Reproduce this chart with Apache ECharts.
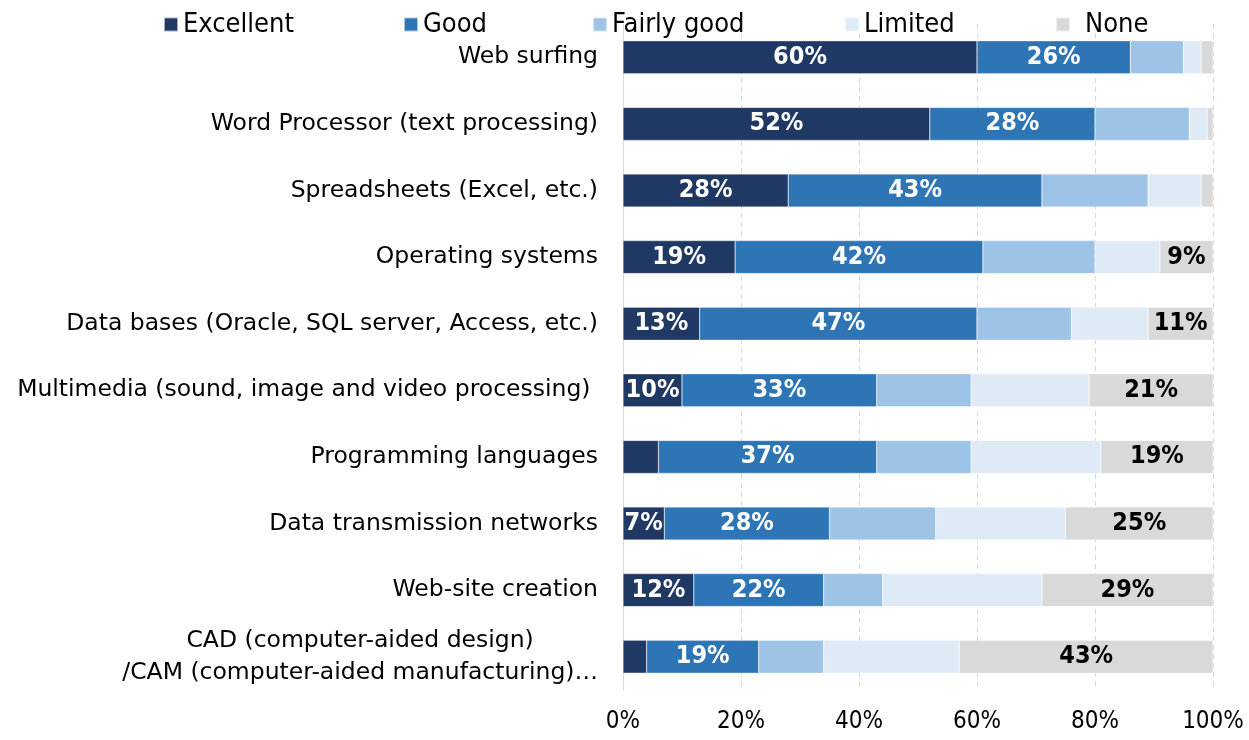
<!DOCTYPE html>
<html lang="en">
<head>
<meta charset="UTF-8">
<title>Skills</title>
<style>
  html, body { margin: 0; padding: 0; background: #fff; }
  #main { width: 1249px; height: 740px; }
</style>
</head>
<body>
<div id="main"></div>
<script src="https://cdn.jsdelivr.net/npm/echarts@6/dist/echarts.min.js"></script>
<script>
var categories = [
  'Web surfing',
  'Word Processor (text processing)',
  'Spreadsheets (Excel, etc.)',
  'Operating systems',
  'Data bases (Oracle, SQL server, Access, etc.)',
  'Multimedia (sound, image and video processing) ',
  'Programming languages',
  'Data transmission networks',
  'Web-site creation',
  'CAD (computer-aided design)\n/CAM (computer-aided manufacturing)…'
];
var levels = ['Excellent', 'Good', 'Fairly good', 'Limited', 'None'];
var excellent = [60, 52, 28, 19, 13, 10, 6, 7, 12, 4];
var good      = [26, 28, 43, 42, 47, 33, 37, 28, 22, 19];
var fairly    = [9, 16, 18, 19, 16, 16, 16, 18, 10, 11];
var limited   = [3, 3, 9, 11, 13, 20, 22, 22, 27, 23];
var none      = [2, 1, 2, 9, 11, 21, 19, 25, 29, 43];

var colors = ['#203864', '#2E75B6', '#9DC3E6', '#DEEBF7', '#D9D9D9'];
var condensed = "'DejaVu Sans Condensed', 'Liberation Sans Narrow', 'DejaVu Sans', sans-serif";
var plain = "'DejaVu Sans', Tahoma, sans-serif";

var chart = echarts.init(document.getElementById('main'));

function makeSeries(name, data, idx, showLabel, labelColor) {
  return {
    name: name,
    type: 'bar',
    stack: 'all',
    data: data,
    barWidth: 33,
    itemStyle: { color: colors[idx], borderColor: 'rgba(255,255,255,0.6)', borderWidth: 0.5 },
    label: {
      show: showLabel,
      position: 'inside',
      color: labelColor,
      fontFamily: condensed,
      fontWeight: 'bold',
      fontSize: 25,
      formatter: function (p) { return p.value >= 7 ? p.value + '%' : ''; }
    }
  };
}

// legend entries placed one by one, like the original
var legendLeft = [158, 398, 587, 839, 1050];
var legends = levels.map(function (name, i) {
  return {
    data: [name],
    left: legendLeft[i],
    top: 6,
    icon: 'rect',
    itemWidth: 14,
    itemHeight: 14,
    itemGap: 0,
    selectedMode: false,
    textStyle: {
      fontFamily: condensed,
      fontSize: 27,
      color: '#000',
      padding: i === 4 ? [0, 0, 0, 10] : 0
    }
  };
});

var option = {
  animation: false,
  legend: legends,
  grid: { left: 623, right: 36, top: 24, bottom: 50, containLabel: false },
  xAxis: {
    type: 'value',
    min: 0,
    max: 100,
    interval: 20,
    axisLine: { show: false },
    axisTick: { show: false },
    axisLabel: {
      formatter: '{value}%',
      fontFamily: condensed,
      fontSize: 24,
      color: '#000',
      margin: 20
    },
    splitLine: { show: true, lineStyle: { color: '#d9d9d9', type: [5, 4], width: 1 } }
  },
  yAxis: {
    type: 'category',
    data: categories,
    inverse: true,
    axisLine: { show: true, lineStyle: { color: '#d9d9d9', width: 1 } },
    axisTick: { show: false },
    axisLabel: {
      fontFamily: plain,
      fontSize: 23.5,
      color: '#000',
      margin: 25,
      interval: 0,
      formatter: function (v) {
        // two-line label: lines centred on each other
        return v.split('\n').map(function (s) { return '{c|' + s + '}'; }).join('\n');
      },
      rich: {
        c: { fontFamily: plain, fontSize: 23.5, color: '#000', lineHeight: 32, align: 'center' }
      }
    }
  },
  series: [
    makeSeries(levels[0], excellent, 0, true, '#fff'),
    makeSeries(levels[1], good, 1, true, '#fff'),
    makeSeries(levels[2], fairly, 2, false, '#000'),
    makeSeries(levels[3], limited, 3, false, '#000'),
    makeSeries(levels[4], none, 4, true, '#000')
  ]
};
chart.setOption(option);
</script>
</body>
</html>
